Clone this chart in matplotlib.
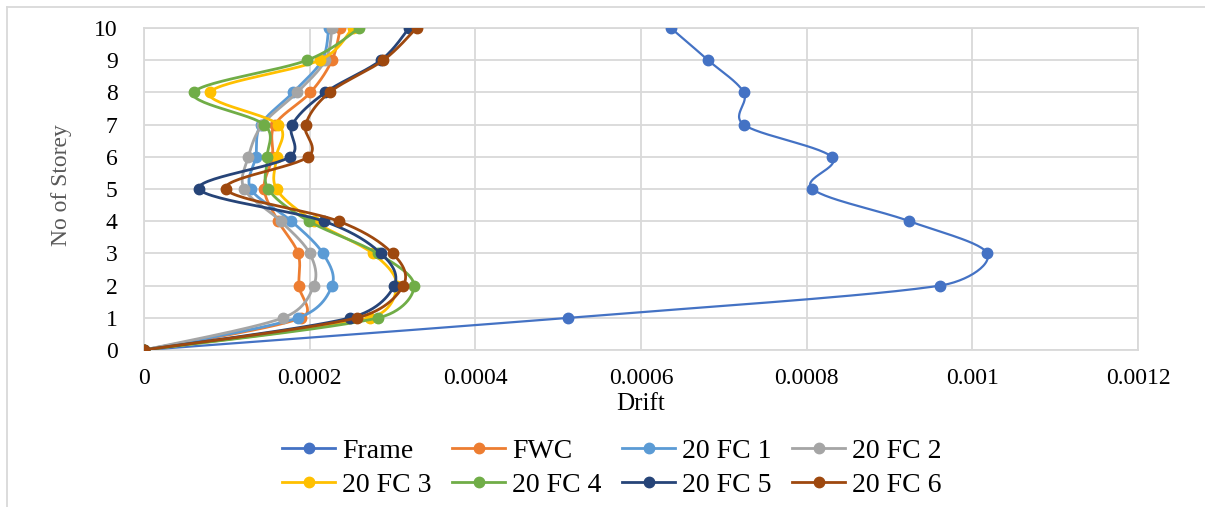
import numpy as np
import matplotlib
matplotlib.use('Agg')
from matplotlib import pyplot as plt
from matplotlib.lines import Line2D

# storey levels and drift values
storeys = [0, 1, 2, 3, 4, 5, 6, 7, 8, 9, 10]
names = ['Frame', 'FWC', '20 FC 1', '20 FC 2', '20 FC 3', '20 FC 4', '20 FC 5', '20 FC 6']
frame = [0, 0.000512, 0.000961, 0.001018, 0.000924, 0.000807, 0.00083, 0.000724, 0.000724, 0.000681, 0.000636]
fwc = [0, 0.00019, 0.000187, 0.000186, 0.000162, 0.000145, 0.000155, 0.000158, 0.000201, 0.000227, 0.000237]
fc1 = [0, 0.000186, 0.000227, 0.000216, 0.000178, 0.000129, 0.000135, 0.000141, 0.00018, 0.000215, 0.000223]
fc2 = [0, 0.000168, 0.000205, 0.0002, 0.000165, 0.000121, 0.000126, 0.000143, 0.000185, 0.000219, 0.000227]
fc3 = [0, 0.000273, 0.000305, 0.000276, 0.000205, 0.00016, 0.00016, 0.000162, 0.0000795, 0.000212, 0.000252]
fc4 = [0, 0.000283, 0.000326, 0.000282, 0.000199, 0.00015, 0.000149, 0.000145, 0.00006, 0.000197, 0.00026]
fc5 = [0, 0.000249, 0.000302, 0.000286, 0.000217, 0.0000667, 0.000176, 0.000179, 0.000219, 0.000286, 0.00032]
fc6 = [0, 0.000257, 0.000313, 0.0003, 0.000235, 0.0000988, 0.000198, 0.000195, 0.000224, 0.000289, 0.000329]
xticks = [0, 0.0002, 0.0004, 0.0006, 0.0008, 0.001, 0.0012]
xtick_labels = ['0', '0.0002', '0.0004', '0.0006', '0.0008', '0.001', '0.0012']

colors = ['#4472C4', '#ED7D31', '#5B9BD5', '#A5A5A5', '#FFC000', '#70AD47', '#264478', '#9E480E']

# rough pixel scale of the plot area, smoothing is done in screen space
XPX = 994 / 0.0012
YPX = 322 / 10


# Excel style smoothed line (bezier through the points, control arms clamped)
def smooth(xs, ys, n=30):
    p = np.column_stack([np.array(xs) * XPX, np.array(ys) * YPX]).astype(float)
    p = np.vstack([p[0], p, p[-1]])
    out = []
    t = np.linspace(0, 1, n)[:, None]
    for i in range(1, len(p) - 2):
        p0, p1, p2, p3 = p[i - 1], p[i], p[i + 1], p[i + 2]
        seglen = np.hypot(*(p2 - p1))
        a1 = (p2 - p0) / 6
        a2 = (p3 - p1) / 6
        lim = 0.5 * seglen
        if np.hypot(*a1) > lim:
            a1 = a1 * lim / np.hypot(*a1)
        if np.hypot(*a2) > lim:
            a2 = a2 * lim / np.hypot(*a2)
        c1 = p1 + a1
        c2 = p2 - a2
        seg = (1 - t)**3 * p1 + 3 * (1 - t)**2 * t * c1 + 3 * (1 - t) * t**2 * c2 + t**3 * p2
        out.append(seg)
    out = np.vstack(out)
    return out[:, 0] / XPX, out[:, 1] / YPX


plt.rcParams['font.family'] = 'Liberation Serif'
fig = plt.figure(figsize=(12.05, 5.07), dpi=100)
ax = fig.add_axes([144/1205, 1-350/507, (1138-144)/1205, (350-28)/507])

series = [frame, fwc, fc1, fc2, fc3, fc4, fc5, fc6]
handles = []
for name, vals, c in zip(names, series, colors):
    sx, sy = smooth(vals, storeys)
    lw = 1.6 if name == 'Frame' else 2.0
    ax.plot(sx, sy, color=c, lw=lw, zorder=3, solid_capstyle='round')
    ax.plot(vals, storeys, 'o', color=c, ms=7.5, zorder=3)
    handles.append(Line2D([0], [0], color=c, lw=2.0, marker='o', ms=7.5))

ax.set_xlim(0, 0.0012)
ax.set_ylim(0, 10)
ax.set_xticks(xticks)
ax.set_xticklabels(xtick_labels)
ax.set_yticks(storeys)
ax.grid(True, color='#D9D9D9', lw=1.3)
ax.set_axisbelow(True)
for s in ax.spines.values():
    s.set_color('#D9D9D9')
    s.set_linewidth(1.3)
ax.tick_params(axis='both', length=0, labelsize=17, colors='black')
ax.tick_params(axis='x', pad=13)
ax.tick_params(axis='y', pad=19)
ax.set_xlabel('Drift', fontsize=18, labelpad=3)
fig.text(62/1205, 1-185/507, 'No of Storey', rotation=90, fontsize=17, color='#595959',
         ha='center', va='center')

# legend is filled column by column, so reorder to read row by row
order = [0, 4, 1, 5, 2, 6, 3, 7]
fig.legend([handles[i] for i in order], [names[i] for i in order], loc='center',
           bbox_to_anchor=(612/1205, 1-468/507), ncol=4,
           frameon=False, fontsize=20, handlelength=1.9, handletextpad=0.25,
           columnspacing=0.75, labelspacing=0.3)

# thin chart border like the excel chart area
fig.add_artist(Line2D([7/1205, 7/1205], [0, 1-7/507], color='#D9D9D9', lw=1.3))
fig.add_artist(Line2D([7/1205, 1], [1-7/507, 1-7/507], color='#D9D9D9', lw=1.3))

fig.savefig('out.png', dpi=100)
